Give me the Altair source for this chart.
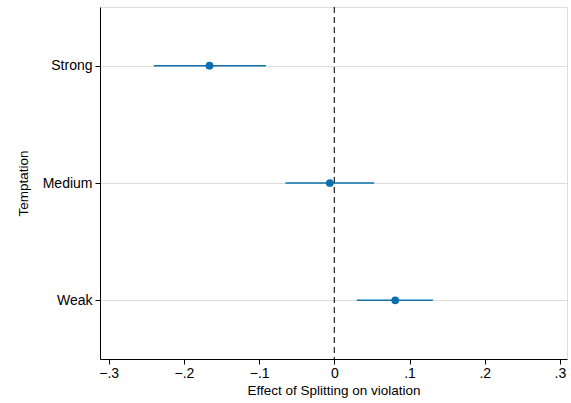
import altair as alt
import pandas as pd

categories = ["Strong", "Medium", "Weak"]
estimates = [-0.166, -0.006, 0.081]
ci_low = [-0.240, -0.065, 0.030]
ci_high = [-0.091, 0.053, 0.131]
x_ticks = [-0.3, -0.2, -0.1, 0.0, 0.1, 0.2, 0.3]

df = pd.DataFrame({"cat": categories, "est": estimates, "lo": ci_low, "hi": ci_high})

FONT = "Liberation Sans"
xscale = alt.Scale(domain=[-0.3116, 0.3094], nice=False, zero=False)
yscale = alt.Scale(type="point", domain=categories, padding=0.5)

base = alt.Chart(df)

ci = base.mark_rule(color="#1170aa", strokeWidth=1.5).encode(
    x=alt.X("lo:Q", scale=xscale,
            axis=alt.Axis(values=x_ticks, title="Effect of Splitting on violation",
                          labelExpr="datum.value == 0 ? '0' : replace(format(datum.value, '.1f'), '0.', '.')",
                          grid=False, domainColor="black", tickColor="black", tickSize=5,
                          labelColor="black", labelFontSize=14, labelFont=FONT,
                          titleFont=FONT, titleFontSize=13.5, titleFontWeight="normal",
                          titleColor="black", titlePadding=3, labelPadding=2)),
    x2="hi:Q",
    y=alt.Y("cat:N", scale=yscale, sort=categories,
            axis=alt.Axis(title="Temptation", grid=True, gridColor="#dddddd",
                          domainColor="black", tickColor="black", tickSize=5,
                          labelColor="black", labelFontSize=14, labelFont=FONT,
                          titleFont=FONT, titleFontSize=13.5, titleFontWeight="normal",
                          titleColor="black", titlePadding=12, labelPadding=3)),
)

pts = base.mark_circle(color="#0a6fb0", size=60, opacity=1).encode(
    x=alt.X("est:Q", scale=xscale),
    y=alt.Y("cat:N", scale=yscale, sort=categories),
)

zero = alt.Chart(pd.DataFrame({"z": [0.0]})).mark_rule(
    color="#222222", strokeDash=[6, 4], strokeWidth=1.2
).encode(x=alt.X("z:Q", scale=xscale))

chart = alt.layer(ci, zero, pts).properties(
    width=467, height=352,
    autosize=alt.AutoSizeParams(type="none"),
    padding={"left": 100, "top": 7, "right": 4, "bottom": 44},
).configure_view(stroke="#444444", strokeWidth=1.5).configure(background="white")

chart.save("out.html", embed_options={"renderer": "svg", "actions": False})
